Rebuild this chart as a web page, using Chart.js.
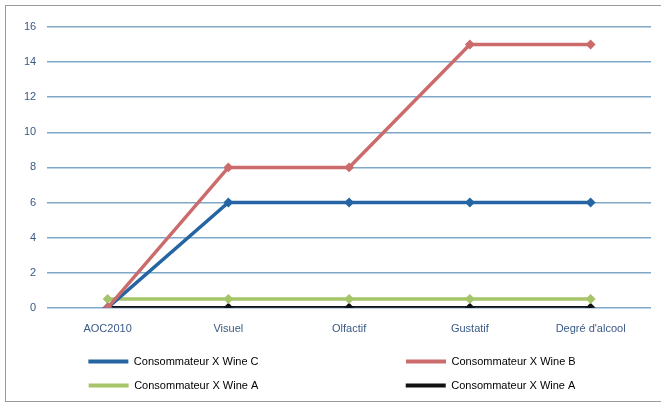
<!DOCTYPE html>
<html>
<head>
<meta charset="utf-8">
<script src="https://cdn.jsdelivr.net/npm/chart.js@4/dist/chart.umd.min.js"></script>
<style>
  html, body { margin: 0; padding: 0; background: #fff; overflow: hidden; }
  #wrap { position: absolute; left: 5px; top: 5px; width: 656px; height: 397px;
          border: 1px solid #9a9a9a; border-right: none; box-sizing: border-box; }
</style>
</head>
<body>
<div id="wrap"><canvas id="c"></canvas></div>
<script>
const categories = ["AOC2010", "Visuel", "Olfactif", "Gustatif", "Degré d'alcool"];
const wineC = [0, 6, 6, 6, 6];
const wineB = [0, 8, 8, 15, 15];
const wineA = [0.5, 0.5, 0.5, 0.5, 0.5];
const wineA2 = [0, 0, 0, 0, 0];
const yTicks = [0, 2, 4, 6, 8, 10, 12, 14, 16];

const legendFont = { family: "Liberation Sans", size: 11 };

function series(label, data, color, order) {
  return {
    label, data, order,
    borderColor: color,
    backgroundColor: color,
    borderWidth: 3.5,
    pointRadius: 2.5,
    pointStyle: "rectRot",
    tension: 0
  };
}

// pad left-column labels with spaces so the legend lays out as 2 columns
function padText(ctx, text, target) {
  ctx.save();
  ctx.font = legendFont.size + "px " + legendFont.family;
  let t = text;
  while (ctx.measureText(t).width < target) t += " ";
  ctx.restore();
  return t;
}

new Chart(document.getElementById("c"), {
  type: "line",
  data: {
    labels: categories,
    datasets: [
      series("Consommateur X Wine C", wineC, "#2565a3", 2),
      series("Consommateur X Wine B", wineB, "#cb6b6b", 1),
      series("Consommateur X Wine A", wineA, "#a6c46a", 3),
      series("Consommateur X Wine A", wineA2, "#111111", 4)
    ]
  },
  options: {
    responsive: true,
    maintainAspectRatio: false,
    animation: false,
    layout: { padding: { left: 7, right: 10, top: 21, bottom: 0 } },
    plugins: {
      tooltip: { enabled: false },
      legend: {
        position: "bottom",
        labels: {
          boxWidth: 40,
          boxHeight: 4,
          padding: 13,
          color: "#3a5a86",
          font: legendFont,
          generateLabels(chart) {
            return chart.data.datasets.map((ds, i) => ({
              text: i % 2 === 0 ? padText(chart.ctx, ds.label, 317 - 13 - 40 - 5.5) : ds.label,
              fillStyle: ds.borderColor,
              strokeStyle: ds.borderColor,
              lineWidth: 0,
              datasetIndex: i
            }));
          }
        }
      }
    },
    scales: {
      x: {
        offset: true,
        grid: { display: false },
        border: { display: false },
        ticks: { color: "#3a5a86", font: { family: "Liberation Sans", size: 11 }, padding: 7 }
      },
      y: {
        min: 0, max: 16,
        afterBuildTicks(axis) { axis.ticks = yTicks.map(v => ({ value: v })); },
        grid: { color: "#7ea7c8", lineWidth: 1.5, drawTicks: false },
        border: { display: false },
        ticks: { color: "#3a5a86", font: { family: "Liberation Sans", size: 11 }, padding: 11 }
      }
    }
  }
});
</script>
</body>
</html>
